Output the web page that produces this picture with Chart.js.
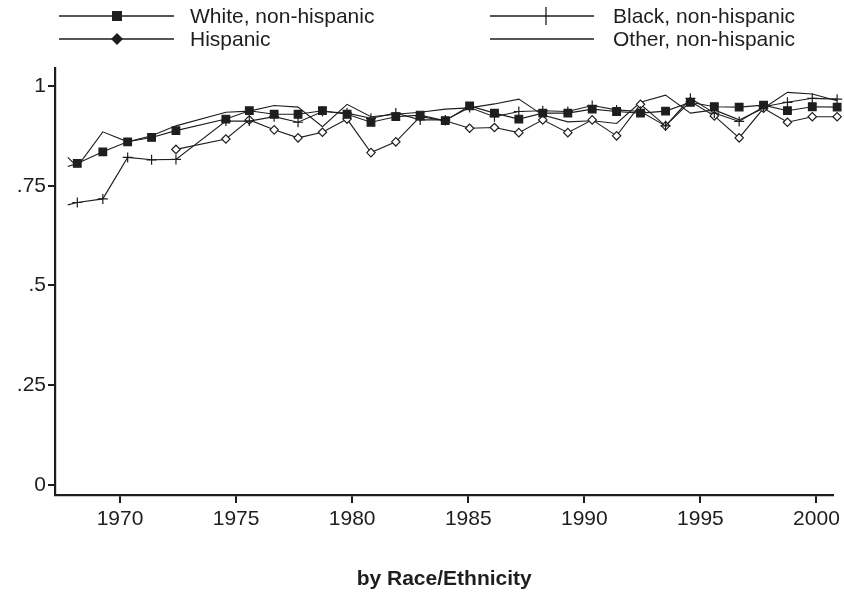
<!DOCTYPE html>
<html>
<head>
<meta charset="utf-8">
<script src="https://cdn.jsdelivr.net/npm/chart.js@4.4.1/dist/chart.umd.min.js"></script>
<style>
  html, body { margin: 0; padding: 0; background: #fff; }
  #wrap { width: 844px; height: 598px; }
</style>
</head>
<body>
<div id="wrap"><canvas id="chart"></canvas></div>
<script>
'use strict';

// ── Data ──────────────────────────────────────────────────────────────────
var years = [1967.75, 1968.16, 1969.26, 1970.33, 1971.36, 1972.41, 1974.56, 1975.57,
             1976.64, 1977.67, 1978.72, 1979.78, 1980.81, 1981.88, 1982.93, 1984.01,
             1985.06, 1986.13, 1987.18, 1988.21, 1989.29, 1990.34, 1991.39, 1992.42,
             1993.50, 1994.57, 1995.60, 1996.67, 1997.72, 1998.75, 1999.82, 2000.89];

var white = [0.798, 0.806, 0.835, 0.860, 0.871, 0.888, 0.917, 0.938,
             0.929, 0.929, 0.938, 0.929, 0.909, 0.923, 0.927, 0.913,
             0.950, 0.932, 0.917, 0.932, 0.932, 0.942, 0.936, 0.932,
             0.937, 0.959, 0.948, 0.947, 0.952, 0.938, 0.948, 0.947];

var black = [0.702, 0.708, 0.717, 0.821, 0.815, 0.816, 0.912, 0.912,
             0.923, 0.909, 0.936, 0.932, 0.919, 0.932, 0.915, 0.915,
             0.946, 0.923, 0.936, 0.938, 0.936, 0.951, 0.940, 0.936,
             0.900, 0.969, 0.932, 0.911, 0.948, 0.959, 0.969, 0.967];

var hispanic = [null, null, null, null, null, 0.841, 0.867, 0.915,
                0.890, 0.870, 0.884, 0.917, 0.833, 0.860, 0.923, 0.913,
                0.894, 0.896, 0.883, 0.915, 0.883, 0.915, 0.875, 0.954,
                0.900, 0.961, 0.925, 0.870, 0.944, 0.909, 0.923, 0.923];

var other = [0.821, 0.798, 0.885, 0.860, 0.875, 0.900, 0.934, 0.937,
             0.951, 0.947, 0.898, 0.954, 0.923, 0.929, 0.934, 0.942,
             0.945, 0.955, 0.967, 0.927, 0.910, 0.913, 0.906, 0.959,
             0.977, 0.932, 0.940, 0.915, 0.944, 0.984, 0.980, 0.963];

var seriesNames = ['White, non-hispanic', 'Black, non-hispanic', 'Hispanic', 'Other, non-hispanic'];
var xTicks = [1970, 1975, 1980, 1985, 1990, 1995, 2000];
var yTicks = [0, 0.25, 0.5, 0.75, 1];
var yTickLabels = ['0', '.25', '.5', '.75', '1'];
var subtitle = 'by Race/Ethnicity';

// ── Style ─────────────────────────────────────────────────────────────────
var INK = '#1e1e1e';
var FONT = "'Liberation Sans', Arial, Helvetica, sans-serif";
var FS = 21;

function pts(vals) {
  return years.map(function(y, i){ return { x: y, y: vals[i] }; });
}

// first observation is drawn without a marker in the reference
function hideFirst(r) {
  return function(ctx){ return ctx.dataIndex === 0 ? 0 : r; };
}

function lineSet(label, vals, style, radius, fill) {
  return {
    label: label,
    data: pts(vals),
    borderColor: INK,
    borderWidth: 1.1,
    pointStyle: style,
    pointRadius: hideFirst(radius),
    pointBackgroundColor: fill,
    pointBorderColor: INK,
    pointBorderWidth: 1.2,
    tension: 0,
    clip: false
  };
}

// ── Legend drawn in the top strip ────────────────────────────────────────
var legendSlots = [
  { x0: 59,  x1: 174, mx: 117, tx: 190, y: 16, mark: 'square' },
  { x0: 490, x1: 594, mx: 546, tx: 613, y: 16, mark: 'bar' },
  { x0: 59,  x1: 174, mx: 117, tx: 190, y: 39, mark: 'diamond' },
  { x0: 490, x1: 594, mx: 546, tx: 613, y: 39, mark: 'none' }
];

var legendPlugin = {
  id: 'topLegend',
  afterDraw: function(chart) {
    var ctx = chart.ctx;
    ctx.save();
    ctx.strokeStyle = INK;
    ctx.fillStyle = INK;
    ctx.lineWidth = 1.3;
    ctx.font = FS + 'px ' + FONT;
    ctx.textBaseline = 'middle';
    ctx.textAlign = 'left';
    legendSlots.forEach(function(s, i) {
      ctx.beginPath();
      ctx.moveTo(s.x0, s.y); ctx.lineTo(s.x1, s.y);
      ctx.stroke();
      if (s.mark === 'square') {
        ctx.fillRect(s.mx - 5, s.y - 5, 10, 10);
      } else if (s.mark === 'diamond') {
        ctx.beginPath();
        ctx.moveTo(s.mx, s.y - 6); ctx.lineTo(s.mx + 6, s.y);
        ctx.lineTo(s.mx, s.y + 6); ctx.lineTo(s.mx - 6, s.y);
        ctx.closePath(); ctx.fill();
      } else if (s.mark === 'bar') {
        ctx.beginPath();
        ctx.moveTo(s.mx, s.y - 9); ctx.lineTo(s.mx, s.y + 9);
        ctx.stroke();
      }
      ctx.fillText(chart.data.datasets[i].label, s.tx, s.y + 1);
    });
    // subtitle under the x axis
    ctx.font = 'bold ' + FS + 'px ' + FONT;
    ctx.textAlign = 'center';
    ctx.fillText(subtitle, (chart.chartArea.left + chart.chartArea.right) / 2, 579);
    ctx.restore();
  }
};

var chart = new Chart(document.getElementById('chart'), {
  type: 'line',
  data: {
    datasets: [
      lineSet(seriesNames[0], white, 'rect', 5.4, INK),
      lineSet(seriesNames[1], black, 'cross', 5, INK),
      lineSet(seriesNames[2], hispanic, 'rectRot', 4.2, '#fff'),
      lineSet(seriesNames[3], other, false, 0, INK)
    ]
  },
  options: {
    responsive: true,
    maintainAspectRatio: false,
    animation: false,
    layout: { padding: { top: 68, right: 8, left: 0, bottom: 0 } },
    plugins: { legend: { display: false }, tooltip: { enabled: false } },
    scales: {
      x: {
        type: 'linear',
        min: 1967.2,
        max: 2000.73,
        afterBuildTicks: function(s){ s.ticks = xTicks.map(function(v){ return { value: v }; }); },
        afterFit: function(s){ s.height = 103; },
        border: { display: true, color: INK, width: 2.2 },
        grid: { display: true, drawOnChartArea: false, drawTicks: true, tickLength: 8, color: INK, lineWidth: 2 },
        ticks: {
          color: INK, padding: 4, maxRotation: 0,
          font: { family: FONT, size: FS },
          callback: function(v){ return String(v); }
        }
      },
      y: {
        type: 'linear',
        min: -0.025,
        max: 1.045,
        afterBuildTicks: function(s){ s.ticks = yTicks.map(function(v){ return { value: v }; }); },
        afterFit: function(s){ s.width = 55; },
        border: { display: true, color: INK, width: 2.2 },
        grid: { display: true, drawOnChartArea: false, drawTicks: true, tickLength: 7, color: INK, lineWidth: 2 },
        ticks: {
          color: INK, padding: 2,
          font: { family: FONT, size: FS },
          callback: function(v){ return yTickLabels[yTicks.indexOf(v)]; }
        }
      }
    }
  },
  plugins: [legendPlugin]
});
</script>
</body>
</html>
